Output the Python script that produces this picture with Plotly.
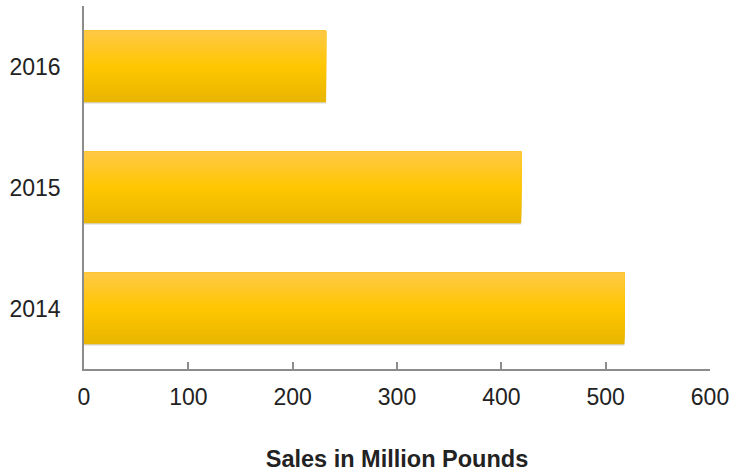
import plotly.graph_objects as go

# Data
years = ["2014", "2015", "2016"]
sales = [518, 419, 232]
x_ticks = [0, 100, 200, 300, 400, 500, 600]
x_title = "Sales in Million Pounds"

fig = go.Figure()

# vertical gradient approximated by stacked overlaid bar bands (each reaching the top)
bar_w = 0.59
n_bands = 24
top_c = (255, 200, 70)
mid_c = (255, 199, 0)
bot_c = (232, 181, 0)

def lerp(a, b, t):
    return tuple(round(a[i] + (b[i] - a[i]) * t) for i in range(3))

# soft shadow (slightly offset darker band behind)
fig.add_trace(go.Bar(
    y=years, x=sales, orientation="h", width=bar_w, offset=-bar_w / 2 - 0.01,
    marker=dict(color="rgba(120,120,120,0.3)", line=dict(width=0)),
    showlegend=False, hoverinfo="skip",
))

band = bar_w / n_bands
for i in range(n_bands):
    t = (i + 0.5) / n_bands  # 0 bottom -> 1 top
    if t < 0.5:
        c = lerp(bot_c, mid_c, t / 0.5)
    else:
        c = lerp(mid_c, top_c, (t - 0.5) / 0.5)
    fig.add_trace(go.Bar(
        y=years, x=sales, orientation="h",
        width=bar_w - i * band, offset=-bar_w / 2 + i * band,
        marker=dict(color="rgb(%d,%d,%d)" % c, line=dict(width=0)),
        showlegend=False, hoverinfo="skip" if i else "x+y",
    ))

fig.update_layout(
    width=746, height=473,
    margin=dict(l=84, r=36, t=6, b=104),
    barmode="overlay",
    plot_bgcolor="white", paper_bgcolor="white",
    font=dict(family="Liberation Sans, Arial, sans-serif", color="#222222"),
    xaxis=dict(
        range=[0, 600], tickvals=x_ticks, showgrid=False, zeroline=False,
        showline=True, linecolor="#8c8c8c", linewidth=1.5,
        ticks="inside", ticklen=7, tickcolor="#8c8c8c", tickwidth=1.5,
        tickfont=dict(size=23, color="#222222"), ticklabelstandoff=7,
        title=dict(text="<b>" + x_title + "</b>", font=dict(size=23.5, color="#222222"), standoff=41),
    ),
    yaxis=dict(
        type="category", categoryorder="array", categoryarray=years,
        range=[-0.5, 2.5], showgrid=False, zeroline=False,
        showline=True, linecolor="#8c8c8c", linewidth=1.5,
        ticks="", tickfont=dict(size=23, color="#222222"), ticklabelstandoff=17,
    ),
)

fig.write_html(
    "out.html",
    config={"displayModeBar": False},
    post_script="document.body.style.margin='0';document.body.style.padding='0';",
)
